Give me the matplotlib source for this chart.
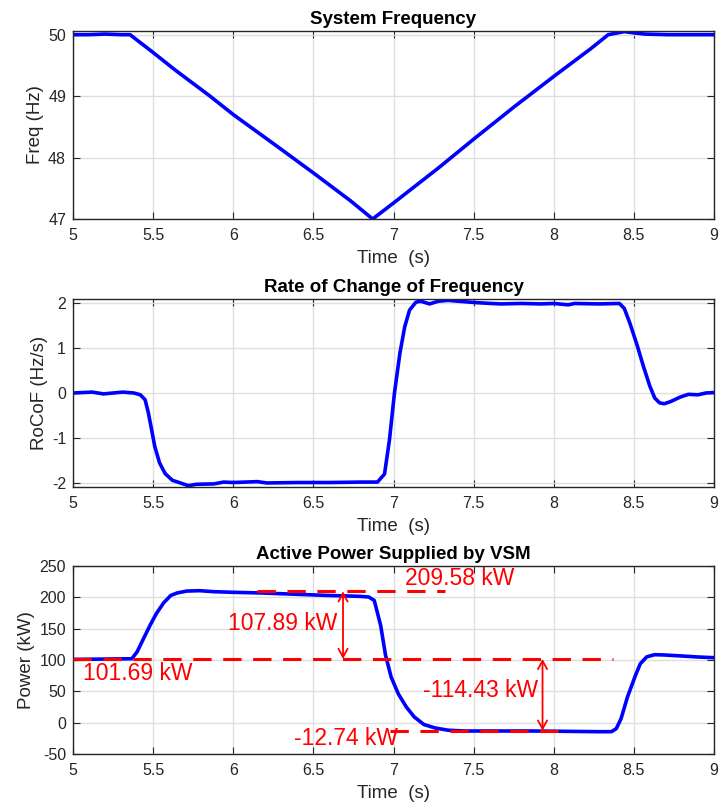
import matplotlib
matplotlib.use("Agg")
import matplotlib.pyplot as plt

plt.rcParams['font.family'] = ['Liberation Sans', 'DejaVu Sans']
plt.rcParams['axes.unicode_minus'] = False

# ---- System frequency (Hz) ----
freq_t = [5.0, 5.1, 5.2, 5.3, 5.356, 5.495, 5.64, 5.85, 6.0, 6.27, 6.5, 6.73, 6.87,
          7.0, 7.28, 7.51, 7.76, 8.01, 8.23, 8.34, 8.38, 8.44, 8.5, 8.57, 8.71,
          8.85, 9.0]
freq_v = [50.0, 50.0, 50.01, 50.0, 50.0, 49.72, 49.42, 49.01, 48.70, 48.19, 47.75,
          47.30, 47.0, 47.26, 47.83, 48.32, 48.84, 49.34, 49.77, 50.0, 50.02,
          50.05, 50.03, 50.01, 50.0, 50.0, 50.0]

# ---- Rate of change of frequency (Hz/s) ----
rocof_t = [5.0, 5.12, 5.19, 5.31, 5.38, 5.42, 5.45, 5.47, 5.49, 5.51, 5.54, 5.575,
           5.62, 5.67, 5.72, 5.77, 5.88, 5.94, 6.0, 6.15, 6.21, 6.4, 6.6, 6.8,
           6.90, 6.944, 6.975, 7.006, 7.04, 7.07, 7.10, 7.14, 7.17, 7.225, 7.28,
           7.34, 7.44, 7.51, 7.61, 7.67, 7.80, 7.92, 8.0, 8.09, 8.13, 8.28, 8.41,
           8.44, 8.475, 8.52, 8.56, 8.60, 8.63, 8.66, 8.69, 8.73, 8.79, 8.84,
           8.90, 8.95, 9.0]
rocof_v = [0.0, 0.02, -0.02, 0.02, 0.0, -0.04, -0.15, -0.44, -0.81, -1.19, -1.56,
           -1.80, -1.95, -2.01, -2.07, -2.04, -2.03, -1.99, -2.0, -1.98, -2.01,
           -2.0, -2.0, -1.99, -1.99, -1.81, -1.04, 0.0, 0.89, 1.48, 1.85, 2.03,
           2.05, 1.99, 2.05, 2.07, 2.04, 2.02, 2.0, 1.99, 2.0, 1.99, 2.0, 1.97,
           2.0, 1.99, 2.0, 1.89, 1.56, 1.07, 0.59, 0.15, -0.11, -0.22, -0.24,
           -0.19, -0.09, -0.03, -0.04, 0.0, 0.01]

# ---- Active power supplied by the VSM (kW) ----
power_t = [5.0, 5.2, 5.367, 5.40, 5.44, 5.48, 5.52, 5.565, 5.61, 5.65, 5.71, 5.79,
           5.88, 6.0, 6.17, 6.38, 6.59, 6.79, 6.846, 6.88, 6.92, 6.95, 6.985,
           7.03, 7.08, 7.13, 7.19, 7.26, 7.34, 7.44, 7.65, 7.86, 8.07, 8.28, 8.36,
           8.39, 8.42, 8.46, 8.51, 8.54, 8.58, 8.63, 8.69, 8.80, 8.90, 9.0]
power_v = [101.0, 101.5, 102.0, 113.0, 134.0, 155.0, 174.0, 191.0, 203.0, 207.0,
           210.0, 210.6, 209.0, 208.0, 207.0, 205.0, 203.0, 201.6, 200.5, 195.0,
           155.0, 108.0, 73.0, 46.0, 25.0, 9.0, -3.0, -8.5, -12.0, -13.3, -13.3,
           -13.3, -13.8, -14.4, -14.4, -9.6, 6.4, 41.0, 75.5, 94.0, 105.0, 108.5,
           108.0, 106.4, 104.8, 103.7]

# Reference levels and differences annotated on the power plot
p_high = 209.58
p_base = 101.69
p_low = -12.74
d_up = 107.89
d_down = -114.43

x_ticks = [5, 5.5, 6, 6.5, 7, 7.5, 8, 8.5, 9]
x_ticklabels = ['5', '5.5', '6', '6.5', '7', '7.5', '8', '8.5', '9']

BLUE = (0, 0, 1)
RED = (1, 0, 0)
AXC = (0.15, 0.15, 0.15)

fig = plt.figure(figsize=(7.19, 8.07), dpi=100)
L, W = 73 / 719, 641 / 719
H = 188 / 807
ax1 = fig.add_axes([L, 1 - 219 / 807, W, H])
ax2 = fig.add_axes([L, 1 - 487 / 807, W, H])
ax3 = fig.add_axes([L, 1 - 754 / 807, W, H])


def style(ax, title, ylabel, yticks, ylim):
    ax.set_xlim(5, 9)
    ax.set_ylim(*ylim)
    ax.set_xticks(x_ticks)
    ax.set_xticklabels(x_ticklabels)
    ax.set_yticks(yticks)
    ax.grid(True, color=(0.87, 0.87, 0.87), linewidth=1.0)
    ax.set_axisbelow(True)
    ax.tick_params(direction='in', length=4.8, width=0.8, colors=AXC,
                   labelsize=11.5, top=True, right=True)
    ax.tick_params(axis='x', pad=6.5)
    ax.tick_params(axis='y', pad=5)
    for s in ax.spines.values():
        s.set_color(AXC)
        s.set_linewidth(1.0)
    ax.set_title(title, fontsize=13.5, fontweight='bold', pad=5, color='black')
    ax.set_xlabel('Time  (s)', fontsize=13.5, color=AXC, labelpad=5)
    ax.set_ylabel(ylabel, fontsize=13.5, color=AXC, labelpad=3)


ax1.plot(freq_t, freq_v, color=BLUE, linewidth=2.6)
style(ax1, 'System Frequency', 'Freq (Hz)', [47, 48, 49, 50], (47, 50.06))

ax2.plot(rocof_t, rocof_v, color=BLUE, linewidth=2.6)
style(ax2, 'Rate of Change of Frequency', 'RoCoF (Hz/s)', [-2, -1, 0, 1, 2], (-2.1, 2.1))

ax3.plot(power_t, power_v, color=BLUE, linewidth=2.6, zorder=2)
style(ax3, 'Active Power Supplied by VSM', 'Power (kW)',
      [-50, 0, 50, 100, 150, 200, 250], (-50, 250))

dash = (0, (6.0, 3.8))
ax3.plot([6.15, 7.32], [p_high, p_high], color=RED, linewidth=2.2, linestyle=dash, zorder=3)
ax3.plot([5.0, 8.37], [p_base, p_base], color=RED, linewidth=2.2, linestyle=dash, zorder=3)
ax3.plot([6.98, 8.05], [p_low, p_low], color=RED, linewidth=2.2, linestyle=dash, zorder=3)

arrow = dict(arrowstyle='<->,head_length=0.6,head_width=0.33', color=RED,
             lw=1.3, shrinkA=0, shrinkB=0, mutation_scale=10)
ax3.annotate('', xy=(6.685, p_high), xytext=(6.685, p_base), arrowprops=arrow, zorder=4)
ax3.annotate('', xy=(7.93, p_low), xytext=(7.93, p_base), arrowprops=arrow, zorder=4)

tkw = dict(color=RED, fontsize=16.5, va='center', zorder=5)
ax3.text(7.07, 230, f'{p_high:.2f} kW', ha='left', **tkw)
ax3.text(5.065, 78, f'{p_base:.2f} kW', ha='left', **tkw)
ax3.text(6.65, 158, f'{d_up:.2f} kW', ha='right', **tkw)
ax3.text(7.90, 52, f'{d_down:.2f} kW', ha='right', **tkw)
ax3.text(6.377, -25, f'{p_low:.2f} kW', ha='left', **tkw)

fig.savefig('out.png', dpi=100)
